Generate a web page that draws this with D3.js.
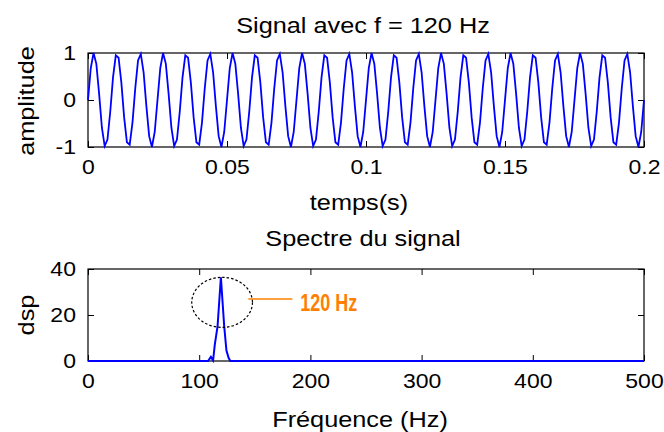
<!DOCTYPE html>
<html>
<head>
<meta charset="utf-8">
<script src="https://cdn.jsdelivr.net/npm/d3@7"></script>
<style>
  body { margin: 0; background: #fff; }
  text { font-family: "Liberation Sans", Arial, sans-serif; }
</style>
</head>
<body>
<svg id="chart" width="664" height="432"></svg>
<script>
// sampled signal, one value per millisecond (fs = 1000 Hz), 0 .. 0.2 s
const dt = 0.001;
const signal = [
  0, 0.68, 1, 0.77, 0.13, -0.59, -0.98, -0.84, -0.25, 0.48, 0.95, 0.9, 0.37, -0.37, -0.9, -0.95, -0.48, 0.25, 0.84, 0.98, 0.59, -0.13, -0.77, -1, -0.68,
  0, 0.68, 1, 0.77, 0.13, -0.59, -0.98, -0.84, -0.25, 0.48, 0.95, 0.9, 0.37, -0.37, -0.9, -0.95, -0.48, 0.25, 0.84, 0.98, 0.59, -0.13, -0.77, -1, -0.68,
  0, 0.68, 1, 0.77, 0.13, -0.59, -0.98, -0.84, -0.25, 0.48, 0.95, 0.9, 0.37, -0.37, -0.9, -0.95, -0.48, 0.25, 0.84, 0.98, 0.59, -0.13, -0.77, -1, -0.68,
  0, 0.68, 1, 0.77, 0.13, -0.59, -0.98, -0.84, -0.25, 0.48, 0.95, 0.9, 0.37, -0.37, -0.9, -0.95, -0.48, 0.25, 0.84, 0.98, 0.59, -0.13, -0.77, -1, -0.68,
  0, 0.68, 1, 0.77, 0.13, -0.59, -0.98, -0.84, -0.25, 0.48, 0.95, 0.9, 0.37, -0.37, -0.9, -0.95, -0.48, 0.25, 0.84, 0.98, 0.59, -0.13, -0.77, -1, -0.68,
  0, 0.68, 1, 0.77, 0.13, -0.59, -0.98, -0.84, -0.25, 0.48, 0.95, 0.9, 0.37, -0.37, -0.9, -0.95, -0.48, 0.25, 0.84, 0.98, 0.59, -0.13, -0.77, -1, -0.68,
  0, 0.68, 1, 0.77, 0.13, -0.59, -0.98, -0.84, -0.25, 0.48, 0.95, 0.9, 0.37, -0.37, -0.9, -0.95, -0.48, 0.25, 0.84, 0.98, 0.59, -0.13, -0.77, -1, -0.68,
  0, 0.68, 1, 0.77, 0.13, -0.59, -0.98, -0.84, -0.25, 0.48, 0.95, 0.9, 0.37, -0.37, -0.9, -0.95, -0.48, 0.25, 0.84, 0.98, 0.59, -0.13, -0.77, -1, -0.68,
  0
];

// spectrum (dsp)
const freqs = [0, 108, 110.5, 112.5, 114, 116.5, 119.5, 122.5, 124.5, 126.5, 128, 500];
const dsp = [0, 0, 1.8, 0.3, 7, 15, 36.4, 15, 4.5, 1.3, 0, 0];

const timeTicks = [0, 0.05, 0.1, 0.15, 0.2];
const ampTicks = [-1, 0, 1];
const freqTicks = [0, 100, 200, 300, 400, 500];
const dspTicks = [0, 20, 40];

// annotation around the peak (data units)
const peakMark = { f: 120.6, v: 25.5, rf: 27.3, rv: 10.9 };
const peakLabel = { f1: 144.2, f2: 183.8, v: 27, tf: 190.9, tv: 21.6, text: "120 Hz" };

const svg = d3.select("#chart");
const stretch = 1.15; // text is drawn wider than plain Arial
const tickSize = 6;

const left = 88, right = 644;

// text helper: horizontal stretch, optional rotation
function label(txt, x, y, size, rotate) {
  const rot = rotate ? " rotate(-90)" : "";
  return svg.append("text")
    .attr("transform", `translate(${x},${y})${rot} scale(${stretch},1)`)
    .attr("text-anchor", "middle")
    .attr("font-size", size)
    .attr("fill", "#000")
    .text(txt);
}

function panel(x, y, xTicks, yTicks) {
  const [y0, y1] = y.range();
  const g = svg.append("g");

  g.append("g")
    .attr("transform", `translate(0,${y0})`)
    .call(d3.axisBottom(x).tickValues(xTicks).tickSize(-tickSize).tickPadding(13).tickFormat((d) => String(d)));
  g.append("g")
    .attr("transform", `translate(0,${y1})`)
    .call(d3.axisTop(x).tickValues(xTicks).tickSize(-tickSize).tickFormat(""));
  g.append("g")
    .attr("transform", `translate(${left},0)`)
    .call(d3.axisLeft(y).tickValues(yTicks).tickSize(-tickSize).tickPadding(10.5).tickFormat((d) => String(d)));
  g.append("g")
    .attr("transform", `translate(${right},0)`)
    .call(d3.axisRight(y).tickValues(yTicks).tickSize(-tickSize).tickFormat(""));

  g.selectAll(".domain").remove();
  g.selectAll(".tick line").attr("stroke", "#000");
  g.selectAll("text")
    .attr("font-size", 20)
    .attr("font-family", '"Liberation Sans", Arial, sans-serif')
    .attr("fill", "#000")
    .attr("transform", `scale(${stretch},1)`);
  return g;
}

function box(y) {
  const [y0, y1] = y.range();
  svg.append("rect")
    .attr("x", left)
    .attr("y", y1)
    .attr("width", right - left)
    .attr("height", y0 - y1)
    .attr("fill", "none")
    .attr("stroke", "#000")
    .attr("stroke-width", 1.2);
}

// ---- top: signal
const xT = d3.scaleLinear().domain([0, 0.2]).range([left, right]);
const yA = d3.scaleLinear().domain([-1, 1]).range([147, 53]);

box(yA);
panel(xT, yA, timeTicks, ampTicks);

svg.append("path")
  .datum(signal)
  .attr("fill", "none")
  .attr("stroke", "#0000ff")
  .attr("stroke-width", 1.8)
  .attr("d", d3.line().x((d, i) => xT(i * dt)).y((d) => yA(d)));

label("Signal avec f = 120 Hz", 363, 33, 22);
label("temps(s)", 359, 210, 22);
label("amplitude", 34, 101, 22, true);

// ---- bottom: spectrum
const xF = d3.scaleLinear().domain([0, 500]).range([left, right]);
const yD = d3.scaleLinear().domain([0, 40]).range([361, 269]);

box(yD);
panel(xF, yD, freqTicks, dspTicks);

svg.append("path")
  .datum(freqs.map((f, i) => [f, dsp[i]]))
  .attr("fill", "none")
  .attr("stroke", "#0000ff")
  .attr("stroke-width", 2)
  .attr("d", d3.line().x((d) => xF(d[0])).y((d) => yD(d[1])));

svg.append("ellipse")
  .attr("cx", xF(peakMark.f))
  .attr("cy", yD(peakMark.v))
  .attr("rx", xF(peakMark.rf) - xF(0))
  .attr("ry", yD(0) - yD(peakMark.rv))
  .attr("fill", "none")
  .attr("stroke", "#000")
  .attr("stroke-width", 1.2)
  .attr("stroke-dasharray", "2.5,2");

svg.append("line")
  .attr("x1", xF(peakLabel.f1))
  .attr("x2", xF(peakLabel.f2))
  .attr("y1", yD(peakLabel.v))
  .attr("y2", yD(peakLabel.v))
  .attr("stroke", "#ff8000")
  .attr("stroke-width", 1.5);

svg.append("text")
  .attr("x", xF(peakLabel.tf))
  .attr("y", yD(peakLabel.tv))
  .attr("font-family", '"Liberation Sans Narrow", "DejaVu Sans Condensed", sans-serif')
  .attr("font-weight", "bold")
  .attr("font-size", 23)
  .attr("fill", "#ff8000")
  .attr("textLength", 57)
  .attr("lengthAdjust", "spacingAndGlyphs")
  .text(peakLabel.text);

label("Spectre du signal", 363, 246, 22);
label("Fréquence (Hz)", 360, 427, 22);
label("dsp", 34, 315, 22, true);
</script>
</body>
</html>
